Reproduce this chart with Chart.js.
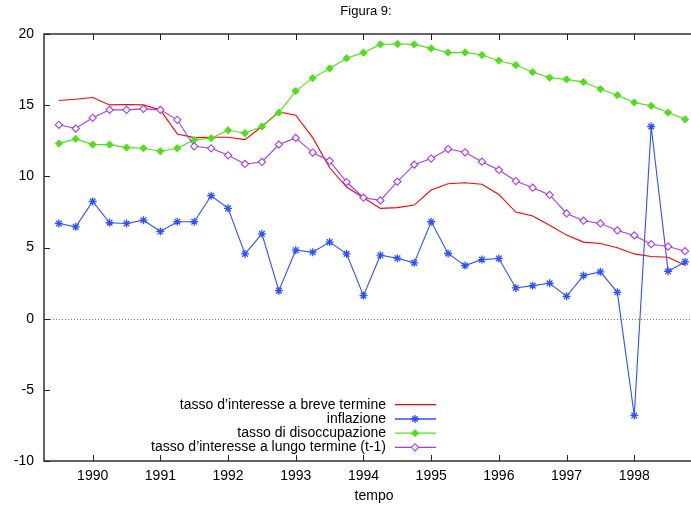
<!DOCTYPE html>
<html>
<head>
<meta charset="utf-8">
<script src="https://cdn.jsdelivr.net/npm/chart.js@4/dist/chart.umd.min.js"></script>
<style>
html,body{margin:0;padding:0;background:#fff;overflow:hidden;width:691px;height:508px;}
canvas{display:block;}
</style>
</head>
<body>
<canvas id="c" width="710" height="508"></canvas>
<script>
const periods = [1989.5, 1989.75, 1990, 1990.25, 1990.5, 1990.75, 1991, 1991.25, 1991.5, 1991.75,
  1992, 1992.25, 1992.5, 1992.75, 1993, 1993.25, 1993.5, 1993.75, 1994, 1994.25,
  1994.5, 1994.75, 1995, 1995.25, 1995.5, 1995.75, 1996, 1996.25, 1996.5, 1996.75,
  1997, 1997.25, 1997.5, 1997.75, 1998, 1998.25, 1998.5, 1998.75];
const shortRate = [15.33, 15.42, 15.54, 15.02, 15.05, 15.02, 14.67, 12.98, 12.72, 12.75,
  12.75, 12.58, 13.5, 14.53, 14.3, 12.72, 10.6, 9.25, 8.5, 7.75,
  7.8, 7.98, 9.04, 9.48, 9.55, 9.44, 8.73, 7.49, 7.21, 6.57,
  5.87, 5.38, 5.28, 4.98, 4.55, 4.37, 4.32, 3.76];
const inflation = [6.69, 6.45, 8.24, 6.74, 6.69, 6.92, 6.13, 6.81, 6.81, 8.64,
  7.75, 4.55, 5.96, 1.97, 4.81, 4.67, 5.38, 4.55, 1.62, 4.46,
  4.25, 3.92, 6.81, 4.58, 3.73, 4.15, 4.23, 2.16, 2.32, 2.49,
  1.57, 3.03, 3.29, 1.85, -6.8, 13.5, 3.33, 3.99];
const unemployment = [12.3, 12.63, 12.23, 12.23, 12.02, 11.97, 11.76, 11.97, 12.56, 12.68,
  13.24, 13.03, 13.5, 14.48, 15.99, 16.9, 17.58, 18.29, 18.69, 19.27,
  19.3, 19.27, 18.99, 18.69, 18.71, 18.52, 18.12, 17.82, 17.32, 16.93,
  16.81, 16.62, 16.13, 15.7, 15.19, 14.95, 14.48, 14.01];
const longRateLag = [13.62, 13.36, 14.11, 14.67, 14.67, 14.74, 14.67, 13.97, 12.11, 11.97,
  11.48, 10.87, 11.01, 12.23, 12.7, 11.67, 11.08, 9.6, 8.5, 8.31,
  9.63, 10.82, 11.25, 11.92, 11.69, 11.03, 10.45, 9.67, 9.2, 8.69,
  7.39, 6.88, 6.69, 6.2, 5.85, 5.23, 5.07, 4.74];
const yearTicks = [1990, 1991, 1992, 1993, 1994, 1995, 1996, 1997, 1998];
const yTicks = [-10, -5, 0, 5, 10, 15, 20];
const seriesNames = ["tasso d\u2019interesse a breve termine", "inflazione", "tasso di disoccupazione", "tasso d\u2019interesse a lungo termine (t-1)"];
const chartTitle = "Figura 9:";
const xTitle = "tempo";

const FONT = "'Liberation Sans', Arial, Helvetica, sans-serif";
const colors = ["#ff0000", "#2f50ff", "#4fe01a", "#a43af0"];

function pts(arr){ return arr.map((v,i)=>({x: periods[i], y: v})); }

const datasets = [
  {label: seriesNames[0], data: pts(shortRate), borderColor: colors[0], borderWidth: 1.1, pointRadius: 0, order: 4},
  {label: seriesNames[1], data: pts(inflation), borderColor: colors[1], borderWidth: 1.1, pointStyle: 'star', pointRadius: 4, pointBorderWidth: 1.3, pointBorderColor: colors[1], order: 3},
  {label: seriesNames[2], data: pts(unemployment), borderColor: colors[2], borderWidth: 1.1, pointStyle: 'rectRot', pointRadius: 3.6, pointBackgroundColor: colors[2], pointBorderColor: colors[2], pointBorderWidth: 1, order: 2},
  {label: seriesNames[3], data: pts(longRateLag), borderColor: colors[3], borderWidth: 1.1, pointStyle: 'rectRot', pointRadius: 3.6, pointBackgroundColor: '#ffffff', pointBorderColor: colors[3], pointBorderWidth: 1.1, order: 1}
];
datasets.forEach(d => { d.tension = 0; d.fill = false; d.pointHoverRadius = d.pointRadius; });

const framePlugin = {
  id: 'frame',
  beforeDatasetsDraw(chart){
    const {ctx, chartArea: a, scales: {x, y}} = chart;
    ctx.save();
    const y0 = Math.round(y.getPixelForValue(0)) + 0.5;
    ctx.strokeStyle = '#777';
    ctx.lineWidth = 1;
    ctx.setLineDash([1, 2]);
    ctx.beginPath(); ctx.moveTo(a.left, y0); ctx.lineTo(a.right, y0); ctx.stroke();
    ctx.restore();
  },
  afterDatasetsDraw(chart){
    const {ctx, chartArea: a, scales: {x, y}} = chart;
    ctx.save();
    ctx.strokeStyle = '#222';
    ctx.lineWidth = 1.4;
    ctx.setLineDash([]);
    ctx.strokeRect(a.left, a.top, a.right - a.left, a.bottom - a.top);
    ctx.lineWidth = 1;
    const tl = 6;
    ctx.beginPath();
    x.ticks.forEach(t => {
      const px = Math.round(x.getPixelForValue(t.value)) + 0.5;
      ctx.moveTo(px, a.bottom); ctx.lineTo(px, a.bottom - tl);
      ctx.moveTo(px, a.top); ctx.lineTo(px, a.top + tl);
    });
    y.ticks.forEach(t => {
      const py = Math.round(y.getPixelForValue(t.value)) + 0.5;
      ctx.moveTo(a.left, py); ctx.lineTo(a.left + tl, py);
      ctx.moveTo(a.right, py); ctx.lineTo(a.right - tl, py);
    });
    ctx.stroke();

    // title
    ctx.fillStyle = '#000';
    ctx.font = '13px ' + FONT;
    ctx.textAlign = 'center';
    ctx.textBaseline = 'middle';
    ctx.fillText(chartTitle, 366, 11);

    // legend
    ctx.font = '14px ' + FONT;
    ctx.textAlign = 'right';
    const rowY = [404.7, 419, 433.2, 447.3];
    const textX = 386, lx0 = 395, lx1 = 436, mx = 415;
    chart.data.datasets.forEach((d, i) => {
      const yy = rowY[i];
      ctx.fillStyle = '#000';
      ctx.fillText(d.label, textX, yy);
      ctx.strokeStyle = d.borderColor;
      ctx.lineWidth = 1.3;
      ctx.beginPath(); ctx.moveTo(lx0, yy); ctx.lineTo(lx1, yy); ctx.stroke();
      if (d.pointRadius > 0) {
        ctx.fillStyle = d.pointBackgroundColor || d.borderColor;
        ctx.strokeStyle = d.pointBorderColor || d.borderColor;
        ctx.lineWidth = d.pointBorderWidth || 1;
        Chart.helpers.drawPoint(ctx, {pointStyle: d.pointStyle, radius: d.pointRadius, borderWidth: d.pointBorderWidth, rotation: 0}, mx, yy);
      }
    });
    ctx.restore();
  }
};

new Chart(document.getElementById('c'), {
  type: 'line',
  data: {datasets},
  options: {
    responsive: false,
    animation: false,
    devicePixelRatio: 1,
    layout: {padding: {top: 34, right: 6, left: 0, bottom: 0}},
    plugins: {legend: {display: false}, tooltip: {enabled: false}, title: {display: false}},
    scales: {
      x: {
        type: 'linear',
        min: 1989.281, max: 1999.03,
        afterBuildTicks(s){ s.ticks = yearTicks.map(v => ({value: v})); },
        afterFit(s){ s.height = 47; },
        grid: {display: false, drawTicks: false},
        border: {display: false},
        ticks: {color: '#000', font: {family: FONT, size: 14}, padding: 7, maxRotation: 0, autoSkip: false, callback: v => String(v)},
        title: {display: true, text: xTitle, color: '#000', font: {family: FONT, size: 14}, padding: {top: 0, bottom: 3}}
      },
      y: {
        type: 'linear',
        min: -10, max: 20,
        afterBuildTicks(s){ s.ticks = yTicks.map(v => ({value: v})); },
        afterFit(s){ s.width = 44; },
        grid: {display: false, drawTicks: false},
        border: {display: false},
        ticks: {color: '#000', font: {family: FONT, size: 14}, padding: 10, autoSkip: false, callback: v => String(v)}
      }
    }
  },
  plugins: [framePlugin]
});
</script>
</body>
</html>
